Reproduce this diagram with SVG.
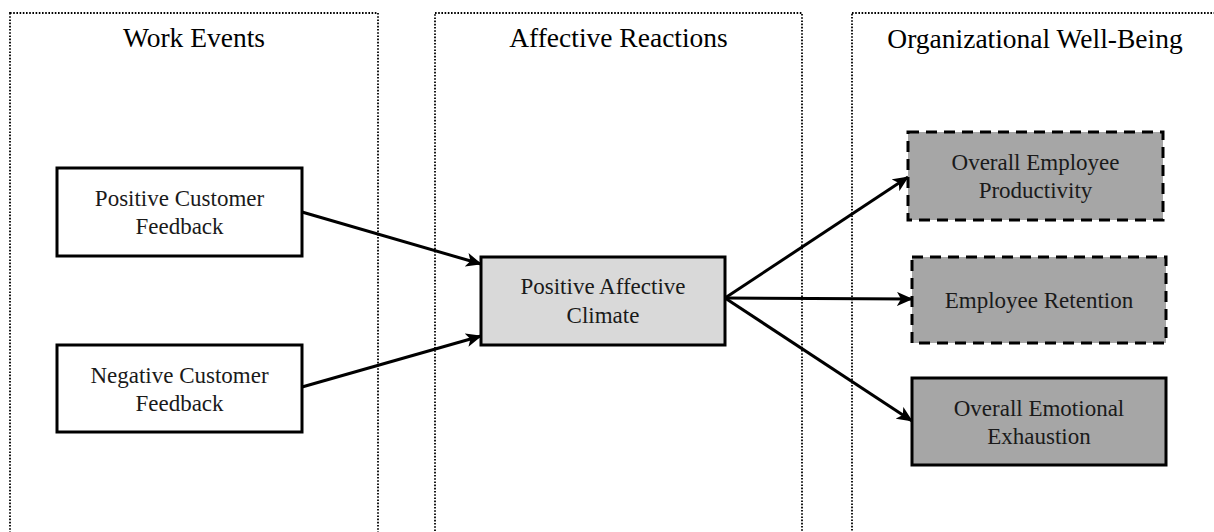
<svg xmlns="http://www.w3.org/2000/svg" width="1214" height="532" viewBox="0 0 1214 532">
<defs>
<style>
.panel{fill:none;stroke:#000;stroke-width:1.8;stroke-dasharray:1.6 1.6}
.box{stroke:#000;stroke-width:3}
.dash{stroke-dasharray:11 7}
.title{font-family:"Liberation Serif","Times New Roman",serif;font-size:27.5px;fill:#000;text-anchor:middle}
.lbl{font-family:"Liberation Serif","Times New Roman",serif;font-size:23px;fill:#1a1a1a;text-anchor:middle}
.conn{stroke:#000;stroke-width:3;fill:none;marker-end:url(#ah)}
</style>
<marker id="ah" markerUnits="userSpaceOnUse" markerWidth="16" markerHeight="14" refX="15" refY="7" orient="auto">
<path d="M0,0 L16,7 L0,14 L4,7 Z" fill="#000"/>
</marker>
</defs>
<g id="panels">
<rect class="panel" x="10" y="13" width="368" height="540"/>
<rect class="panel" x="435" y="13" width="367" height="540"/>
<rect class="panel" x="852" y="13" width="370" height="540"/>
<text class="title" x="194" y="47">Work Events</text>
<text class="title" x="618.5" y="47">Affective Reactions</text>
<text class="title" x="1035" y="48">Organizational Well-Being</text>
</g>
<g id="connectors">
<line class="conn" x1="302" y1="212" x2="481" y2="264"/>
<line class="conn" x1="302" y1="387" x2="481" y2="336"/>
<line class="conn" x1="725" y1="298" x2="908" y2="177"/>
<line class="conn" x1="725" y1="298" x2="912" y2="299"/>
<line class="conn" x1="725" y1="298" x2="912" y2="421"/>
</g>
<g id="pos-feedback">
<rect class="box" x="57" y="168" width="245" height="88" fill="#fff"/>
<text class="lbl" x="179.5" y="206">Positive Customer</text>
<text class="lbl" x="179.5" y="234">Feedback</text>
</g>
<g id="neg-feedback">
<rect class="box" x="57" y="345" width="245" height="87" fill="#fff"/>
<text class="lbl" x="179.5" y="383">Negative Customer</text>
<text class="lbl" x="179.5" y="411">Feedback</text>
</g>
<g id="climate">
<rect class="box" x="481" y="257" width="244" height="88" fill="#d9d9d9"/>
<text class="lbl" x="603" y="294">Positive Affective</text>
<text class="lbl" x="603" y="323">Climate</text>
</g>
<g id="productivity">
<rect class="box dash" x="908" y="132" width="255" height="88" fill="#a6a6a6"/>
<text class="lbl" x="1035.5" y="170">Overall Employee</text>
<text class="lbl" x="1035.5" y="198">Productivity</text>
</g>
<g id="retention">
<rect class="box dash" x="912" y="257" width="254" height="86" fill="#a6a6a6"/>
<text class="lbl" x="1039" y="308">Employee Retention</text>
</g>
<g id="exhaustion">
<rect class="box" x="912" y="378" width="254" height="87" fill="#a6a6a6"/>
<text class="lbl" x="1039" y="416">Overall Emotional</text>
<text class="lbl" x="1039" y="444">Exhaustion</text>
</g>
</svg>
